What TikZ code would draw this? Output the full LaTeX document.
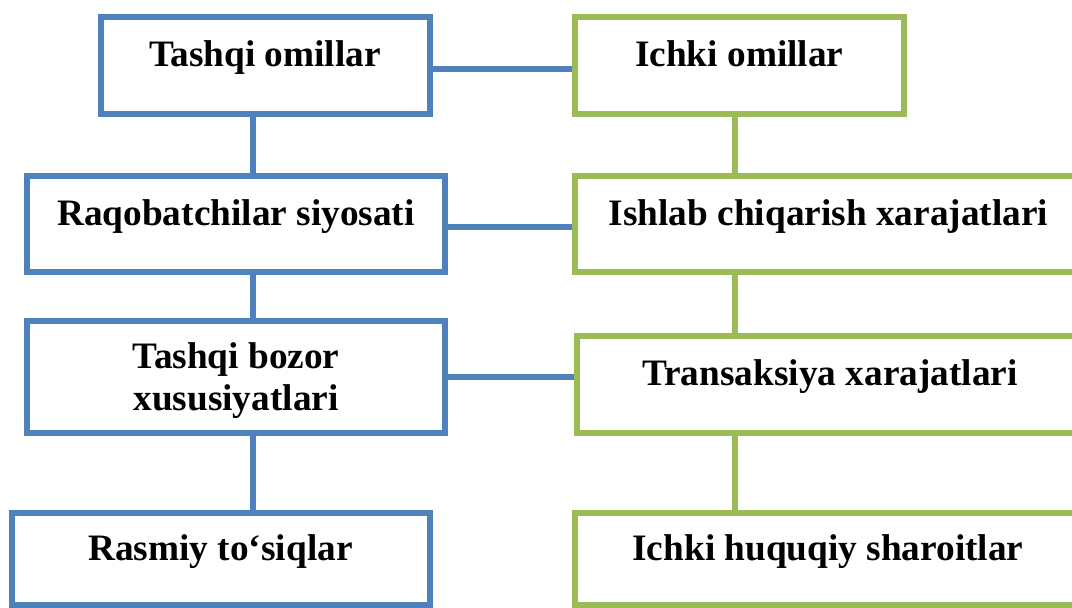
\documentclass[tikz,border=0pt]{standalone}
\usepackage{fontspec}
\setmainfont{Liberation Serif}
\definecolor{boxblue}{HTML}{4F81BD}
\definecolor{boxgreen}{HTML}{9BBB59}
\tikzset{
  bbox/.style={draw=boxblue, line width=6pt, rectangle, inner sep=0pt},
  gbox/.style={draw=boxgreen, line width=6pt, rectangle, inner sep=0pt},
  bline/.style={draw=boxblue, line width=6pt},
  gline/.style={draw=boxgreen, line width=6pt},
  lbl/.style={anchor=base, inner sep=0pt, font=\fontsize{37.3pt}{42pt}\selectfont\bfseries}
}
\begin{document}
\begin{tikzpicture}[x=1pt, y=-1pt]
\path[use as bounding box, clip] (0,0) rectangle (1072,608);
% boxes
\node[bbox, minimum width=329pt, minimum height=96.4pt] (A) at (265,65.5) {};
\node[gbox, minimum width=328.5pt, minimum height=96.4pt] (E) at (739.25,65.5) {};
\node[bbox, minimum width=418pt, minimum height=96pt] (B) at (236,224) {};
\node[gbox, minimum width=507pt, minimum height=96pt] (F) at (828.5,224) {};
\node[bbox, minimum width=418pt, minimum height=112pt] (C) at (236,377) {};
\node[gbox, minimum width=506pt, minimum height=96.7pt] (G) at (830,384.65) {};
\node[bbox, minimum width=418pt, minimum height=92pt] (D) at (220.5,559) {};
\node[gbox, minimum width=506pt, minimum height=92pt] (H) at (828,559) {};
% texts
\node[lbl] (tA) at (A |- 0,66.7) {Tashqi omillar};
\node[lbl] (tE) at (E |- 0,66.7) {Ichki omillar};
\node[lbl] (tB) at (B |- 0,225) {Raqobatchilar siyosati};
\node[lbl] (tF) at (F |- 0,225) {Ishlab chiqarish xarajatlari};
\node[lbl] (tC) at (C |- 0,368) {\begin{tabular}[t]{@{}c@{}}Tashqi bozor\\xususiyatlari\end{tabular}};
\node[lbl] (tG) at (G |- 0,385) {Transaksiya xarajatlari};
\node[lbl] (tD) at (D |- 0,560) {Rasmiy to‘siqlar};
\node[lbl] (tH) at (H |- 0,560) {Ichki huquqiy sharoitlar};
% horizontal connectors
\draw[bline] ([yshift=-3.5pt]A.east) -- ([yshift=-3.5pt]A.east -| E.west);
\draw[bline] ([yshift=-2.7pt]B.east) -- ([yshift=-2.7pt]B.east -| F.west);
\draw[bline] ([yshift=-0.3pt]C.east) -- ([yshift=-0.3pt]C.east -| G.west);
% vertical connectors, left
\draw[bline] ([xshift=-12.4pt]A.south) -- ([xshift=-12.4pt]A.south |- B.north);
\draw[bline] ([xshift=16.6pt]B.south) -- ([xshift=16.6pt]B.south |- C.north);
\draw[bline] ([xshift=16.6pt]C.south) -- ([xshift=16.6pt]C.south |- D.north);
% vertical connectors, right
\draw[gline] ([xshift=-4.25pt]E.south) -- ([xshift=-4.25pt]E.south |- F.north);
\draw[gline] ([xshift=-93.5pt]F.south) -- ([xshift=-93.5pt]F.south |- G.north);
\draw[gline] ([xshift=-95pt]G.south) -- ([xshift=-95pt]G.south |- H.north);
\end{tikzpicture}
\end{document}
